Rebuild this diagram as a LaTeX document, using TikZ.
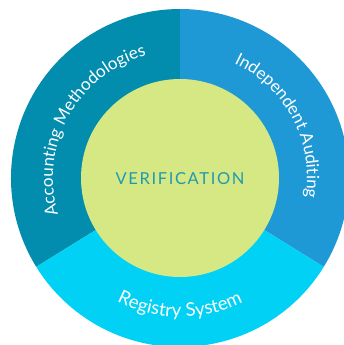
\documentclass[tikz,border=0pt]{standalone}
\usepackage{fontspec}
\setmainfont{Lato}
\usetikzlibrary{decorations.text,calc}
\definecolor{segteal}{HTML}{028CAD}
\definecolor{segblue}{HTML}{1F99D6}
\definecolor{segcyan}{HTML}{00D1F5}
\definecolor{hubgreen}{HTML}{D6E883}
\definecolor{hubtext}{HTML}{1E9BB0}
\newfontfamily\ringfont{Lato}[Scale=1]
\tikzset{
  x=1pt,y=1pt,
  segment/.style={draw=none},
  ringlabel/.style={decorate,decoration={text along path,text align=center,
     text={|\fontsize{17.1}{20}\ringfont\color{white}|#1}}},
  ringlabelbig/.style={decorate,decoration={text along path,text align=center,
     text={|\fontsize{18.6}{20}\ringfont\color{white}|#1}}},
}
\begin{document}
\begin{tikzpicture}
\useasboundingbox (0,0) rectangle (344,-345);
\clip (0,0) rectangle (344,-345);
\coordinate (c) at (180,-178);
\fill[segteal,segment] (c) -- ++(211.7:169) arc[start angle=211.7,end angle=90,radius=169] -- cycle;
\fill[segblue,segment] (c) -- ++(90:169) arc[start angle=90,end angle=-31.7,radius=169] -- cycle;
\fill[segcyan,segment] (c) -- ++(-31.7:169) arc[start angle=-31.7,end angle=-148.3,radius=169] -- cycle;
\fill[hubgreen] (c) circle[radius=99];
\node[text=hubtext,font=\fontsize{16.5}{18}\selectfont\addfontfeatures{LetterSpace=10}] (hub) at (180,-179) {VERIFICATION};
\path[ringlabel={Accounting Methodologies}] ($(c)+(211:127)$) arc[start angle=211,end angle=91,radius=127];
\path[ringlabel={Independent Auditing}] ($(c)+(88:127)$) arc[start angle=88,end angle=-32,radius=127];
\path[ringlabelbig={Registry System}] ($(c)+(210:139)$) arc[start angle=210,end angle=330,radius=139];
\end{tikzpicture}
\end{document}
